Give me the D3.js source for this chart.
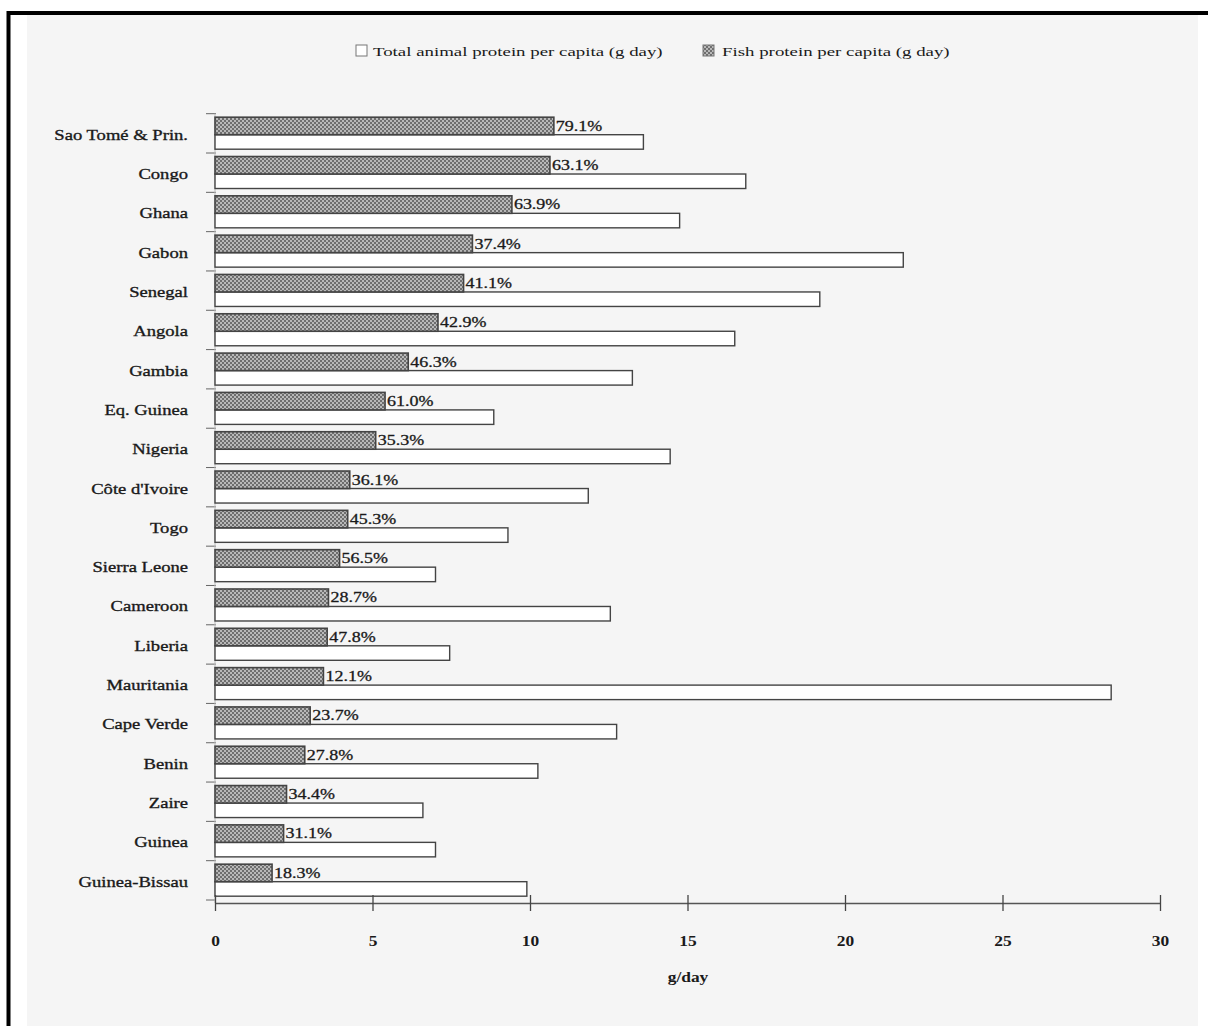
<!DOCTYPE html>
<html>
<head>
<meta charset="utf-8">
<script src="https://cdn.jsdelivr.net/npm/d3@7"></script>
<style>
  html, body { margin: 0; padding: 0; background: #fff; }
  svg { display: block; }
  text { font-family: "Liberation Serif", "DejaVu Serif", serif; fill: #1a1a1a; }
</style>
</head>
<body>
<svg id="chart" width="1208" height="1026"></svg>
<script>
// Countries, top to bottom
const countries = [
  "Sao Tomé & Prin.", "Congo", "Ghana", "Gabon", "Senegal", "Angola", "Gambia",
  "Eq. Guinea", "Nigeria", "Côte d'Ivoire", "Togo", "Sierra Leone", "Cameroon",
  "Liberia", "Mauritania", "Cape Verde", "Benin", "Zaire", "Guinea", "Guinea-Bissau"
];
// Total animal protein per capita (g/day)
const totalProtein = [
  13.6, 16.85, 14.75, 21.85, 19.2, 16.5, 13.25,
  8.85, 14.45, 11.85, 9.3, 7.0, 12.55,
  7.45, 28.45, 12.75, 10.25, 6.6, 7.0, 9.9
];
// Fish share of animal protein (%), as printed next to each fish bar
const fishShare = [
  79.1, 63.1, 63.9, 37.4, 41.1, 42.9, 46.3,
  61.0, 35.3, 36.1, 45.3, 56.5, 28.7,
  47.8, 12.1, 23.7, 27.8, 34.4, 31.1, 18.3
];
const shareLabels = [
  "79.1%", "63.1%", "63.9%", "37.4%", "41.1%", "42.9%", "46.3%",
  "61.0%", "35.3%", "36.1%", "45.3%", "56.5%", "28.7%",
  "47.8%", "12.1%", "23.7%", "27.8%", "34.4%", "31.1%", "18.3%"
];
const xTicks = [0, 5, 10, 15, 20, 25, 30];
const legendLabels = ["Total animal protein per capita (g day)", "Fish protein per capita (g day)"];
const axisTitle = "g/day";

const rows = countries.map((c, i) => ({
  country: c,
  total: totalProtein[i],
  fish: totalProtein[i] * fishShare[i] / 100,
  label: shareLabels[i]
}));

const svg = d3.select("#chart");
const stretch = 1.2;   // serif type set slightly wide

// page frame: left and top rule only
svg.append("rect").attr("x", 27).attr("y", 15).attr("width", 1171).attr("height", 1011).attr("fill", "#f5f5f5");
svg.append("path")
  .attr("d", "M8.5,1026 V13 H1208")
  .attr("fill", "none").attr("stroke", "#000").attr("stroke-width", 4);

// hatch for fish bars
const defs = svg.append("defs");
const pat = defs.append("pattern").attr("id", "hatch")
  .attr("patternUnits", "userSpaceOnUse").attr("width", 4).attr("height", 4);
pat.append("rect").attr("width", 4).attr("height", 4).attr("fill", "#b8b8b8");
pat.append("rect").attr("x", 0).attr("y", 0).attr("width", 2).attr("height", 2).attr("fill", "#6e6e6e");
pat.append("rect").attr("x", 2).attr("y", 2).attr("width", 2).attr("height", 2).attr("fill", "#6e6e6e");

const x = d3.scaleLinear().domain([0, 30]).range([215, 1160]);
const y = d3.scaleBand().domain(countries).range([113.7, 900]).paddingInner(0).paddingOuter(0);
const bw = y.bandwidth();

// band boundary ticks on the category axis
svg.append("g").selectAll("line")
  .data(d3.range(countries.length + 1))
  .join("line")
  .attr("x1", 206).attr("x2", 216)
  .attr("y1", i => 113.7 + i * bw).attr("y2", i => 113.7 + i * bw)
  .attr("stroke", "#666").attr("stroke-width", 1);
svg.append("line").attr("x1", 215).attr("x2", 215).attr("y1", 113.7).attr("y2", 903)
  .attr("stroke", "#bbb").attr("stroke-width", 1);

const g = svg.append("g");

// total animal protein (open bars)
g.selectAll("rect.total").data(rows).join("rect")
  .attr("class", "total")
  .attr("x", x(0)).attr("y", d => y(d.country) + 21)
  .attr("width", d => x(d.total) - x(0)).attr("height", 14.5)
  .attr("fill", "#fff").attr("stroke", "#444").attr("stroke-width", 1.4);

// fish protein (hatched bars)
g.selectAll("rect.fish").data(rows).join("rect")
  .attr("class", "fish")
  .attr("x", x(0)).attr("y", d => y(d.country) + 3.5)
  .attr("width", d => x(d.fish) - x(0)).attr("height", 17.5)
  .attr("fill", "url(#hatch)").attr("stroke", "#444").attr("stroke-width", 1.6);

// share labels
g.selectAll("text.share").data(rows).join("text")
  .attr("class", "share")
  .attr("transform", d => `translate(${x(d.fish) + 2},${y(d.country) + 17}) scale(${stretch},1)`)
  .attr("font-size", 15)
  .attr("stroke", "#1a1a1a").attr("stroke-width", 0.3)
  .text(d => d.label);

// category labels
svg.append("g").selectAll("text").data(rows).join("text")
  .attr("transform", d => `translate(188,${y(d.country) + 26}) scale(${stretch},1)`)
  .attr("text-anchor", "end")
  .attr("font-size", 15.5)
  .attr("stroke", "#1a1a1a").attr("stroke-width", 0.35)
  .text(d => d.country);

// value axis
const axis = d3.axisBottom(x).tickValues(xTicks).tickSize(0).tickFormat(d3.format("d"));
const ax = svg.append("g").attr("transform", "translate(0,903)").call(axis);
ax.select(".domain").attr("stroke", "#555").attr("stroke-width", 1.3);
ax.selectAll(".tick text").remove();
ax.selectAll(".tick").append("line")
  .attr("y1", -8).attr("y2", 8).attr("stroke", "#444").attr("stroke-width", 1.3);
ax.selectAll(".tick").append("text")
  .attr("transform", `translate(0,43) scale(${stretch},1)`)
  .attr("text-anchor", "middle")
  .attr("font-size", 14.5).attr("font-weight", "bold")
  .style("font-family", '"Liberation Serif", serif').attr("fill", "#1a1a1a")
  .text(d => d3.format("d")(d));

svg.append("text")
  .attr("transform", `translate(688,982) scale(${stretch},1)`)
  .attr("text-anchor", "middle")
  .attr("font-size", 14.5).attr("font-weight", "bold")
  .text(axisTitle);

// legend
const legend = svg.append("g");
legend.append("rect").attr("x", 356).attr("y", 45).attr("width", 11).attr("height", 11)
  .attr("fill", "#fff").attr("stroke", "#777").attr("stroke-width", 1);
legend.append("text")
  .attr("transform", `translate(373,56) scale(1.45,1)`)
  .attr("font-size", 13).attr("fill", "#333")
  .text(legendLabels[0]);
legend.append("rect").attr("x", 703).attr("y", 45).attr("width", 11).attr("height", 11)
  .attr("fill", "url(#hatch)").attr("stroke", "#777").attr("stroke-width", 1);
legend.append("text")
  .attr("transform", `translate(722,56) scale(1.45,1)`)
  .attr("font-size", 13).attr("fill", "#333")
  .text(legendLabels[1]);
</script>
</body>
</html>
